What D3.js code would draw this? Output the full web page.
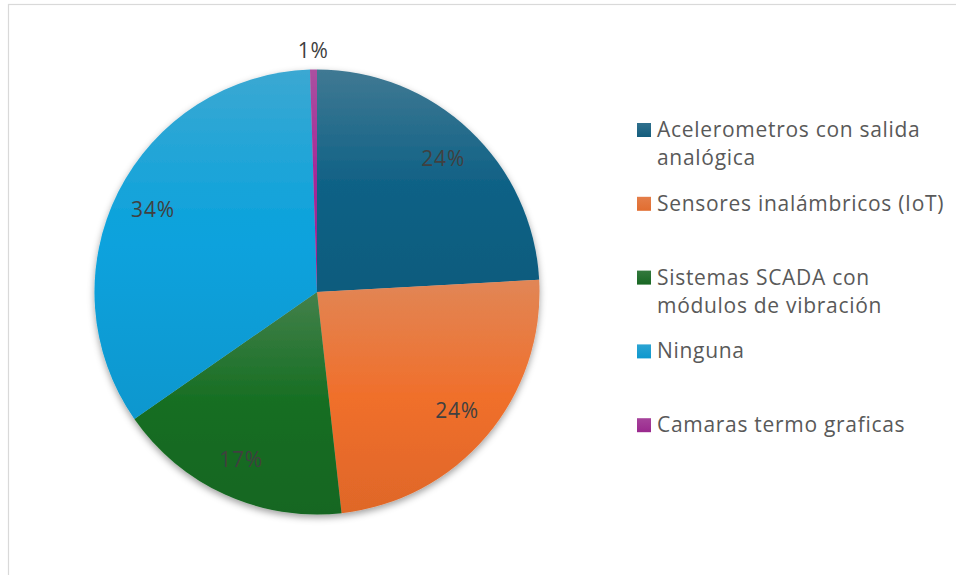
<!DOCTYPE html>
<html>
<head>
<meta charset="utf-8">
<script src="https://cdn.jsdelivr.net/npm/d3@7"></script>
<style>
  html, body { margin: 0; padding: 0; background: #fff; }
  svg { display: block; }
</style>
</head>
<body>
<svg id="chart" width="956" height="575"></svg>
<script>
// Survey responses: monitoring technology in use
const categories = [
  "Acelerometros con salida analógica",
  "Sensores inalámbricos (IoT)",
  "Sistemas SCADA con módulos de vibración",
  "Ninguna",
  "Camaras termo graficas"
];
const counts = [48, 48, 34, 68, 1];
const legendLines = [
  ["Acelerometros con salida", "analógica"],
  ["Sensores inalámbricos (IoT)"],
  ["Sistemas SCADA con", "módulos de vibración"],
  ["Ninguna"],
  ["Camaras termo graficas"]
];
const palette = ["#156082", "#E97132", "#196B24", "#0F9ED5", "#A02B93"];

const svg = d3.select("#chart");
const cx = 317, cy = 292, R = 222.5;
const fontFamily = "'Open Sans', 'Noto Sans', sans-serif";

// chart area frame
svg.append("rect")
  .attr("x", 8.5).attr("y", 4.5)
  .attr("width", 1200).attr("height", 1200)
  .attr("fill", "#fff")
  .attr("stroke", "#d9d9d9").attr("stroke-width", 1.2);

const defs = svg.append("defs");

// soft shadow under the pie
const shadow = defs.append("filter").attr("id", "pieShadow")
  .attr("x", "-10%").attr("y", "-10%").attr("width", "120%").attr("height", "125%");
shadow.append("feDropShadow")
  .attr("dx", 0).attr("dy", 3).attr("stdDeviation", 3.5)
  .attr("flood-color", "#000").attr("flood-opacity", 0.38);

// vertical gradient per slice: light at top, full colour in the middle, deeper at bottom
const mix = (a, b, t) => d3.interpolateRgb(a, b)(t);
palette.forEach((c, i) => {
  const g = defs.append("linearGradient").attr("id", "grad" + i)
    .attr("x1", 0).attr("y1", 0).attr("x2", 0).attr("y2", 1);
  const base = d3.hsl(c);
  const sat = d3.hsl(base.h, Math.min(1, base.s * 1.08), base.l).formatHex();
  g.append("stop").attr("offset", "0%").attr("stop-color", mix(c, "#c8c8c8", 0.24));
  g.append("stop").attr("offset", "50%").attr("stop-color", sat);
  g.append("stop").attr("offset", "100%").attr("stop-color", d3.color(sat).darker(0.2).formatHex());
});

// same look on the legend keys
palette.forEach((c, i) => {
  const g = defs.append("linearGradient").attr("id", "key" + i)
    .attr("x1", 0).attr("y1", 0).attr("x2", 0).attr("y2", 1);
  g.append("stop").attr("offset", "0%").attr("stop-color", mix(c, "#c8c8c8", 0.15));
  g.append("stop").attr("offset", "100%").attr("stop-color", d3.color(c).darker(0.1).formatHex());
});

const total = d3.sum(counts);
const pie = d3.pie().sort(null).value(d => d)(counts);
const arc = d3.arc().innerRadius(0).outerRadius(R);

const pieG = svg.append("g")
  .attr("transform", `translate(${cx},${cy})`);

pieG.append("g").attr("filter", "url(#pieShadow)")
  .selectAll("path")
  .data(pie)
  .join("path")
  .attr("d", arc)
  .attr("fill", (d, i) => `url(#grad${i})`);

// percentage labels
const pct = v => Math.round(v / total * 100) + "%";
const inner = d3.arc().innerRadius(R * 0.825).outerRadius(R * 0.825);
const outer = d3.arc().innerRadius(R * 1.085).outerRadius(R * 1.085);

pieG.append("g")
  .selectAll("text")
  .data(pie)
  .join("text")
  .attr("transform", d => {
    const small = (d.endAngle - d.startAngle) < 0.1;
    const [x, y] = small ? outer.centroid(d) : inner.centroid(d);
    return `translate(${x},${y})`;
  })
  .attr("text-anchor", "middle")
  .attr("dy", "0.36em")
  .attr("font-family", fontFamily)
  .attr("font-size", 21)
  .attr("letter-spacing", 0.8)
  .attr("fill", "#404040")
  .text(d => pct(d.value));

// legend
const legendX = 637, firstBaseline = 137, entryStep = 73.8, lineStep = 28, key = 14;
const leg = svg.append("g");
const entries = leg.selectAll("g")
  .data(categories)
  .join("g")
  .attr("transform", (d, i) => `translate(${legendX},${firstBaseline + i * entryStep})`);

entries.append("rect")
  .attr("x", 0).attr("y", -key)
  .attr("width", key).attr("height", key)
  .attr("fill", (d, i) => `url(#key${i})`);

entries.append("text")
  .attr("x", 20)
  .attr("font-family", fontFamily)
  .attr("font-size", 21)
  .attr("letter-spacing", 0.7)
  .attr("fill", "#595959")
  .selectAll("tspan")
  .data((d, i) => legendLines[i])
  .join("tspan")
  .attr("x", 20)
  .attr("dy", (d, j) => j === 0 ? 0 : lineStep)
  .text(d => d);
</script>
</body>
</html>
